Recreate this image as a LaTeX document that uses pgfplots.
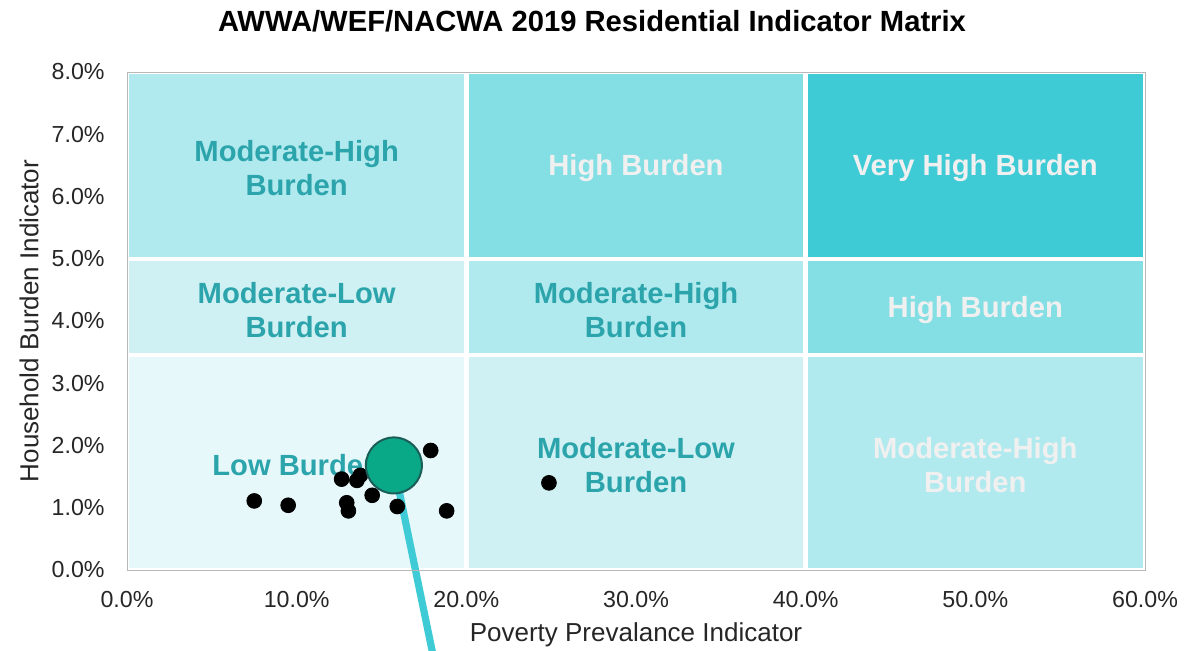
\documentclass[border=0pt]{standalone}
\usepackage{fontspec}
\setmainfont{Liberation Sans}
\usepackage{pgfplots}
\pgfplotsset{compat=1.18}
\definecolor{cLow}{HTML}{E6F8FA}
\definecolor{cModLow}{HTML}{D0F1F3}
\definecolor{cModHigh}{HTML}{B1EAEE}
\definecolor{cHigh}{HTML}{84DFE4}
\definecolor{cVHigh}{HTML}{3FCBD6}
\definecolor{tealtxt}{HTML}{2BA4AB}
\definecolor{lighttxt}{HTML}{F0F0F0}
\definecolor{ptgreen}{HTML}{09A886}
\definecolor{ptedge}{HTML}{1B5E58}
\definecolor{pointer}{HTML}{3ECBD5}
\begin{document}
\begin{tikzpicture}
\begin{axis}[
  at={(63.5pt,40pt)}, anchor=south west,
  scale only axis, width=509pt, height=249pt,
  xmin=0, xmax=60, ymin=0, ymax=8,
  xtick={0,10,20,30,40,50,60},
  xticklabels={0.0\%,10.0\%,20.0\%,30.0\%,40.0\%,50.0\%,60.0\%},
  ytick={0,1,2,3,4,5,6,7,8},
  yticklabels={0.0\%,1.0\%,2.0\%,3.0\%,4.0\%,5.0\%,6.0\%,7.0\%,8.0\%},
  major tick length=0pt,
  tick label style={font=\fontsize{11.6}{13}\selectfont, text=black!85, inner sep=0pt},
  xticklabel style={anchor=base, yshift=-18.5pt},
  yticklabel style={anchor=east, xshift=-11pt},
  xlabel={Poverty Prevalance Indicator},
  ylabel={Household Burden Indicator},
  label style={font=\fontsize{13}{15}\selectfont, text=black!85},
  xlabel style={at={(axis description cs:0.5,0)}, anchor=center, yshift=-32.5pt},
  ylabel style={at={(axis description cs:0,0.5)}, anchor=center, rotate=0, yshift=49pt},
  axis line style={draw=black!28},
  axis on top,
  clip=false,
  every node/.append style={align=center},
]
% cells
\addplot[fill=cLow, draw=white, line width=2.2pt] coordinates {(0,0) (20,0) (20,3.45) (0,3.45) (0,0)};
\addplot[fill=cModLow, draw=white, line width=2.2pt] coordinates {(20,0) (40,0) (40,3.45) (20,3.45) (20,0)};
\addplot[fill=cModHigh, draw=white, line width=2.2pt] coordinates {(40,0) (60,0) (60,3.45) (40,3.45) (40,0)};
\addplot[fill=cModLow, draw=white, line width=2.2pt] coordinates {(0,3.45) (20,3.45) (20,5) (0,5) (0,3.45)};
\addplot[fill=cModHigh, draw=white, line width=2.2pt] coordinates {(20,3.45) (40,3.45) (40,5) (20,5) (20,3.45)};
\addplot[fill=cHigh, draw=white, line width=2.2pt] coordinates {(40,3.45) (60,3.45) (60,5) (40,5) (40,3.45)};
\addplot[fill=cModHigh, draw=white, line width=2.2pt] coordinates {(0,5) (20,5) (20,8) (0,8) (0,5)};
\addplot[fill=cHigh, draw=white, line width=2.2pt] coordinates {(20,5) (40,5) (40,8) (20,8) (20,5)};
\addplot[fill=cVHigh, draw=white, line width=2.2pt] coordinates {(40,5) (60,5) (60,8) (40,8) (40,5)};
% labels
\begin{scope}[every node/.style={font=\bfseries\fontsize{14.6}{17}\selectfont, align=center}]
\node[text=tealtxt] at (axis cs:10,6.45) {Moderate-High\\Burden};
\node[text=lighttxt] at (axis cs:30,6.45) {High Burden};
\node[text=lighttxt] at (axis cs:50,6.45) {Very High Burden};
\node[text=tealtxt] at (axis cs:10,4.17) {Moderate-Low\\Burden};
\node[text=tealtxt] at (axis cs:30,4.17) {Moderate-High\\Burden};
\node[text=lighttxt] at (axis cs:50,4.17) {High Burden};
\node[text=tealtxt] at (axis cs:10,1.69) {Low Burden};
\node[text=tealtxt] at (axis cs:30,1.69) {Moderate-Low\\Burden};
\node[text=lighttxt] at (axis cs:50,1.69) {Moderate-High\\Burden};
\end{scope}
% pointer line
\addplot[color=pointer, line width=3.6pt] coordinates {(15.73,1.68) (18.1,-1.45)};
% utilities
\addplot[only marks, mark=*, mark size=3.7pt, color=black] coordinates {
 (7.5,1.11) (9.5,1.04) (12.65,1.46) (13.55,1.44) (13.75,1.52) (12.95,1.08)
 (13.05,0.95) (14.45,1.2) (15.93,1.02) (17.9,1.92) (18.84,0.95) (24.87,1.40)
};
% highlighted utility
\addplot[only marks, mark=*, mark size=14pt, mark options={fill=ptgreen, draw=ptedge, line width=1pt}] coordinates {(15.73,1.68)};
\end{axis}
\node[font=\bfseries\fontsize{14.6}{17}\selectfont] at (296pt,314.5pt) {AWWA/WEF/NACWA 2019 Residential Indicator Matrix};
\pgfresetboundingbox
\path[use as bounding box] (0,0) rectangle (602pt,325pt);
\end{tikzpicture}
\end{document}
